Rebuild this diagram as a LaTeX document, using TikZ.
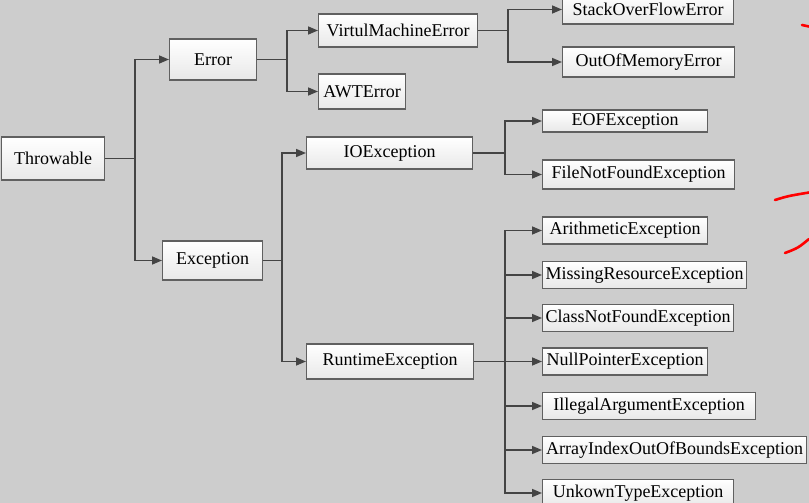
\documentclass[tikz,border=0pt]{standalone}
\usepackage{fontspec}
\setmainfont{Liberation Serif}
\usepackage{xcolor}
\usetikzlibrary{arrows.meta}

\definecolor{bggray}{HTML}{CDCDCD}
\definecolor{linkgray}{HTML}{444444}
\definecolor{edgegray}{HTML}{606060}

\begin{document}
\begin{tikzpicture}[x=1pt,y=-1pt,
		cls/.style={draw=edgegray,line width=1.2pt,top color=white,bottom color=black!9,
			anchor=west,inner sep=0pt,minimum height=27pt,font=\fontsize{18}{20}\selectfont},
		link/.style={draw=linkgray,line width=1.6pt,-{Triangle[length=10pt,width=8pt]}},
		scrib/.style={draw=red,line width=2.6pt,line cap=round}]
			\fill[bggray] (0,0) rectangle (809,503);
			\useasboundingbox (0,0) rectangle (809,503);
			
			% bus lines
			\coordinate (thrbus) at (135,0);
			\coordinate (errbus) at (287,0);
			\coordinate (vmebus) at (508,0);
			\coordinate (excbus) at (282,0);
			\coordinate (ioebus) at (505,0);
			\coordinate (rtebus) at (505,0);
			
			\node[cls,minimum width=103pt,minimum height=43pt] (thr) at (1,158.5) {Throwable};
			\node[cls,minimum width=87pt,minimum height=41pt] (err) at (169,59.5) {Error};
			\node[cls,minimum width=100pt,minimum height=39pt] (exc) at (162,260.5) {Exception};
			
			\node[cls,minimum width=159pt,minimum height=33pt] (vme) at (318,30.5) {VirtulMachineError};
			\node[cls,minimum width=87pt,minimum height=35pt] (awt) at (318,91.5) {AWTError};
			\node[cls,minimum width=166pt,minimum height=32pt] (ioe) at (306,153) {IOException};
			\node[cls,minimum width=167pt,minimum height=35pt] (rte) at (306,361.5) {RuntimeException};
			
			\node[cls,minimum width=171pt,minimum height=29pt] (sof) at (562,9.5) {StackOverFlowError};
			\node[cls,minimum width=172pt,minimum height=30pt] (oom) at (562,62) {OutOfMemoryError};
			\node[cls,minimum width=165pt,minimum height=22pt] (eof) at (542,121) {EOFException};
			\node[cls,minimum width=192pt,minimum height=29pt] (fnf) at (542,174.5) {FileNotFoundException};
			
			\draw[link] (thr.east) -- (thr.east -| thrbus) |- (err.west);
			\draw[link] (thr.east) -- (thr.east -| thrbus) |- (exc.west);
			\draw[link] (err.east) -- (err.east -| errbus) |- (vme.west);
			\draw[link] (err.east) -- (err.east -| errbus) |- (awt.west);
			\draw[link] (exc.east) -- (exc.east -| excbus) |- (ioe.west);
			\draw[link] (exc.east) -- (exc.east -| excbus) |- (rte.west);
			\draw[link] (vme.east) -- (vme.east -| vmebus) |- (sof.west);
			\draw[link] (vme.east) -- (vme.east -| vmebus) |- (oom.west);
			\draw[link] (ioe.east) -- (ioe.east -| ioebus) |- (eof.west);
			\draw[link] (ioe.east) -- (ioe.east -| ioebus) |- (fnf.west);
			
			\foreach \nm/\yy/\ww/\txt in {ari/230.5/165/ArithmeticException,
				mis/275/204/MissingResourceException,
				cnf/318/191/ClassNotFoundException,
				npe/361.5/165/NullPointerException,
				iae/406/213/IllegalArgumentException,
				aio/450/264/ArrayIndexOutOfBoundsException,
				ukt/493/191/UnkownTypeException} {
				\node[cls,minimum width=\ww pt] (\nm) at (542,\yy) {\txt};
				\draw[link] (rte.east) -- (rte.east -| rtebus) |- (\nm.west);
			}
			
			% red pen marks
			\draw[scrib] (802,25) -- (809,26.5);
			\draw[scrib] (775,200) .. controls (788,196) .. (809,192.5);
			\draw[scrib] (785,253) .. controls (798,248) .. (809,239);
		\end{tikzpicture}
\end{document}
